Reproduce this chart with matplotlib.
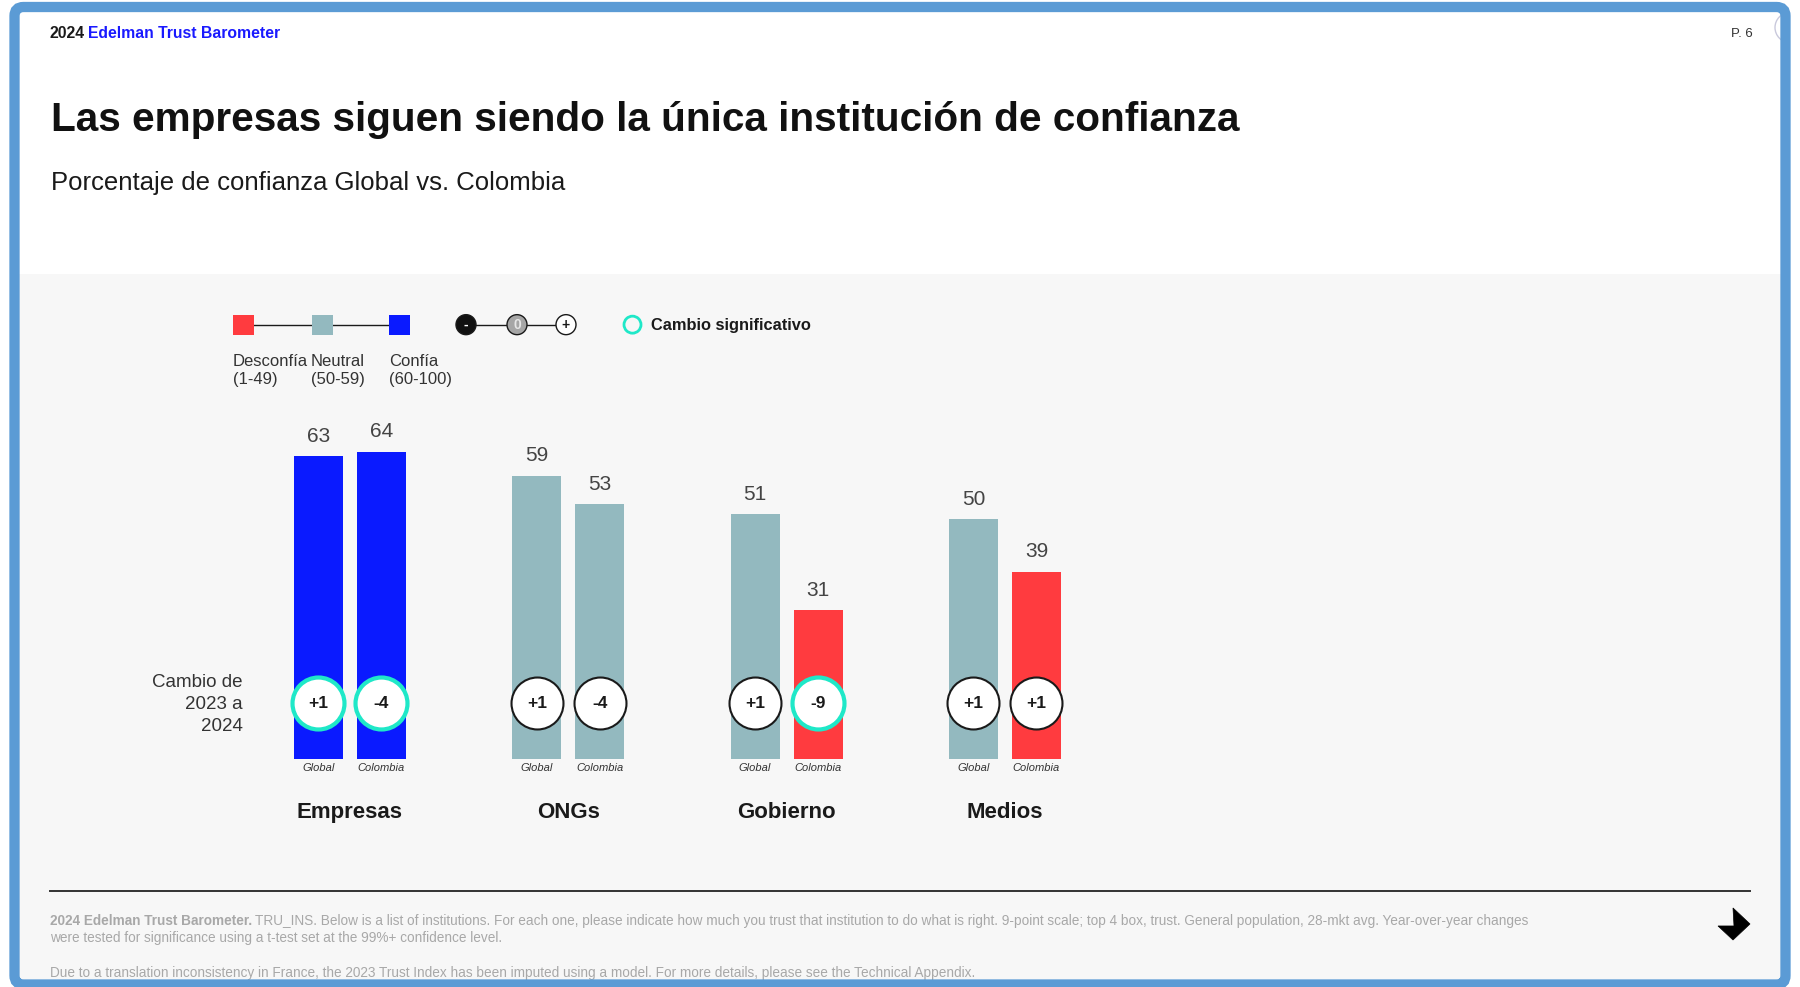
"""
Edelman Trust Barometer 2024, p.6: trust in institutions, Global vs. Colombia.
Writes out.png (1800x987).
"""
import matplotlib
matplotlib.use("Agg")
import matplotlib.pyplot as plt
from matplotlib.patches import FancyBboxPatch, Rectangle, Circle, Polygon, Arc

FONT = "Liberation Sans"
plt.rcParams["font.family"] = [FONT, "DejaVu Sans"]

# ---- data -------------------------------------------------------------
categories = ["Empresas", "ONGs", "Gobierno", "Medios"]
series_names = ["Global", "Colombia"]
global_vals = [63, 59, 51, 50]
colombia_vals = [64, 53, 31, 39]
global_change = ["+1", "+1", "+1", "+1"]
colombia_change = ["-4", "-4", "-9", "+1"]
global_sig = [True, False, False, False]
colombia_sig = [True, False, True, False]

# ---- style ------------------------------------------------------------
W, H = 1800, 987
RED = "#ff3b3f"
NEUTRAL = "#93b9bf"
BLUE = "#0a1aff"
TEAL = "#1fe8c8"
FRAME = "#5b9bd5"
PANEL = "#f7f7f7"
INK = "#1a1a1a"
TXT = "#333333"
VAL = "#444444"
FOOT = "#a8a8a8"


def trust_color(v):
    if v < 50:
        return RED
    if v < 60:
        return NEUTRAL
    return BLUE


fig = plt.figure(figsize=(W / 100, (H + 0.5) / 100), dpi=100)
fig.patch.set_facecolor("white")

# background axes in pixel coordinates (y down)
bg = fig.add_axes([0, 0, 1, 1], zorder=0)
bg.set_xlim(0, W)
bg.set_ylim(H, 0)
bg.axis("off")

bg.add_patch(Rectangle((18, 274), 1763, 710, facecolor=PANEL, edgecolor="none", zorder=0))
bg.add_patch(Arc((1790, 28), 30, 30, theta1=90, theta2=270, color="#c9c9dc", lw=1, zorder=1))
bg.add_patch(FancyBboxPatch((14.5, 7.5), 1771, 977, boxstyle="round,pad=0,rounding_size=9",
                            facecolor="none", edgecolor=FRAME, linewidth=7.4, zorder=5))

# header
t0 = bg.text(50, 33, "2024", fontsize=11.3, fontweight="bold", color=INK, va="center", ha="left")
fig.canvas.draw()
r = fig.canvas.get_renderer()
x0 = t0.get_window_extent(r).x1 + 3
bg.text(x0, 33, "Edelman Trust Barometer", fontsize=11.3, fontweight="bold",
        color="#1a1aff", va="center", ha="left")
bg.text(1753, 34, "P. 6", fontsize=9.5, color=TXT, va="center", ha="right")

bg.text(51, 120, "Las empresas siguen siendo la única institución de confianza",
        fontsize=29.2, fontweight="bold", color="#111111", va="center", ha="left")
bg.text(51, 182.5, "Porcentaje de confianza Global vs. Colombia",
        fontsize=18.5, color="#1a1a1a", va="center", ha="left")

# legend: trust scale
ly = 325
bg.plot([243, 399], [ly, ly], color=INK, lw=1, zorder=2)
for cx, col in zip([243.5, 322.5, 399.5], [RED, NEUTRAL, BLUE]):
    bg.add_patch(Rectangle((cx - 10.5, ly - 10), 21, 20, facecolor=col, edgecolor="none", zorder=3))
for x, lab in zip([233, 311, 389], ["Desconfía\n(1-49)", "Neutral\n(50-59)", "Confía\n(60-100)"]):
    bg.text(x, 370, lab, fontsize=12, color=TXT, va="center", ha="left", linespacing=1.25)

# legend: change scale
bg.plot([466, 566], [ly, ly], color=INK, lw=1, zorder=2)
for cx, fc, sym, tc in [(466, "#111111", "-", "white"), (517, "#a6a6a6", "0", "#e6e6e6"),
                        (566, "white", "+", INK)]:
    bg.add_patch(Circle((cx, ly), 10, facecolor=fc, edgecolor=INK, lw=1, zorder=3))
    bg.text(cx, ly, sym, fontsize=10, fontweight="bold", color=tc, ha="center", va="center", zorder=4)

bg.add_patch(Circle((632.5, ly), 8.5, facecolor="none", edgecolor=TEAL, lw=2, zorder=3))
bg.text(651, ly, "Cambio significativo", fontsize=11.8, fontweight="bold", color=INK,
        va="center", ha="left")

bg.text(243, 704, "Cambio de\n2023 a\n2024", fontsize=13.5, color=TXT, ha="right",
        va="center", multialignment="right", linespacing=1.38)

# footer
FS = 9.8
bg.plot([50, 1750], [891, 891], color="#333333", lw=1.4)
fb = bg.text(50, 921, "2024 Edelman Trust Barometer.", fontsize=FS, fontweight="bold",
             color=FOOT, va="center", ha="left")
fig.canvas.draw()
xb = fb.get_window_extent(r).x1 + 3
bg.text(xb, 921, "TRU_INS. Below is a list of institutions. For each one, please indicate how much "
        "you trust that institution to do what is right. 9-point scale; top 4 box, trust. General "
        "population, 28-mkt avg. Year-over-year changes", fontsize=FS, color=FOOT,
        va="center", ha="left")
bg.text(50, 938, "were tested for significance using a t-test set at the 99%+ confidence level.",
        fontsize=FS, color=FOOT, va="center", ha="left")
bg.text(50, 973, "Due to a translation inconsistency in France, the 2023 Trust Index has been "
        "imputed using a model. For more details, please see the Technical Appendix.",
        fontsize=FS, color=FOOT, va="center", ha="left")
bg.add_patch(Polygon([(1733, 908), (1750, 924), (1733, 940), (1718, 926), (1734, 926)],
                     closed=True, facecolor="black", edgecolor="black", lw=0.5, zorder=3))

# ---- bars -------------------------------------------------------------
PX_GROUP = 218.3
left_px, base_px, unit_px = 350 - PX_GROUP, 759, 4.8
ax = fig.add_axes([left_px / W, (H - base_px) / H, 5 * PX_GROUP / W, 100 * unit_px / H], zorder=2)
ax.set_xlim(-1, 4)
ax.set_ylim(0, 100)
ax.axis("off")
ax.patch.set_alpha(0)

bw = 49 / PX_GROUP
off = 31.5 / PX_GROUP
circle_y = 11.6

for i, cat in enumerate(categories):
    rows = [(i - off, global_vals[i], global_change[i], global_sig[i], series_names[0]),
            (i + off, colombia_vals[i], colombia_change[i], colombia_sig[i], series_names[1])]
    for x, v, ch, sig, nm in rows:
        ax.bar(x, v, width=bw, color=trust_color(v), edgecolor="none", zorder=1)
        ax.annotate(str(v), (x, v), xytext=(0, 14.5), textcoords="offset points",
                    ha="center", va="center", fontsize=15, color=VAL)
        ax.scatter([x], [circle_y], s=1400, facecolor="white",
                   edgecolor=TEAL if sig else INK, linewidth=3 if sig else 1.5, zorder=3)
        ax.text(x, circle_y, ch, ha="center", va="center", fontsize=12.5,
                fontweight="bold", color=INK, zorder=4)
        ax.annotate(nm, (x, 0), xytext=(0, -6), textcoords="offset points",
                    ha="center", va="center", fontsize=8, style="italic", color=TXT,
                    annotation_clip=False)
    ax.annotate(cat, (i, 0), xytext=(0, -38.5), textcoords="offset points", ha="center",
                va="center", fontsize=16, fontweight="bold", color=INK, annotation_clip=False)

fig.savefig("out.png", dpi=100)
